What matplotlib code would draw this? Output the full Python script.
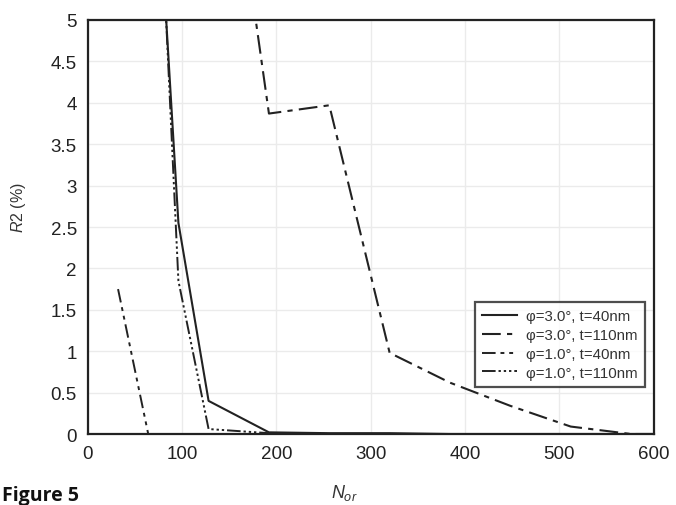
import matplotlib
matplotlib.use('Agg')
import matplotlib.pyplot as plt

# 数据
n_30_40 = [64, 96, 128, 192, 256, 320, 384, 448, 512, 576, 600]
r_30_40 = [8.6, 2.55, 0.40, 0.02, 0.01, 0.01, 0.0, 0.0, 0.0, 0.0, 0.0]

n_30_110 = [128, 160, 192, 256, 320, 384, 448, 512, 576, 600]
r_30_110 = [9.0, 6.45, 3.87, 3.97, 0.98, 0.62, 0.34, 0.09, 0.0, 0.0]

n_10_40 = [32, 64, 96, 128, 192, 256, 320, 384, 448, 512, 576, 600]
r_10_40 = [1.75, 0.0, 0.0, 0.0, 0.0, 0.0, 0.0, 0.0, 0.0, 0.0, 0.0, 0.0]

n_10_110 = [64, 96, 128, 192, 256, 320, 384, 448, 512, 576, 600]
r_10_110 = [9.6, 1.85, 0.06, 0.01, 0.0, 0.0, 0.0, 0.0, 0.0, 0.0, 0.0]

labels = [u'φ=3.0°, t=40nm', u'φ=3.0°, t=110nm',
          u'φ=1.0°, t=40nm', u'φ=1.0°, t=110nm']
x_ticks = [0, 100, 200, 300, 400, 500, 600]
y_ticks = [0, 0.5, 1, 1.5, 2, 2.5, 3, 3.5, 4, 4.5, 5]
y_ticklabels = ['0', '0.5', '1', '1.5', '2', '2.5', '3', '3.5', '4', '4.5', '5']

plt.rcParams['font.family'] = ['Liberation Sans', 'DejaVu Sans']
plt.rcParams['mathtext.fontset'] = 'custom'
plt.rcParams['mathtext.rm'] = 'Liberation Sans'
plt.rcParams['mathtext.it'] = 'Liberation Sans:italic'

fig = plt.figure(figsize=(6.76, 5.06), dpi=100)
ax = fig.add_axes([0.130, 0.1403, 0.837, 0.8182])

ax.plot(n_30_40, r_30_40, color='#222222', lw=1.5, ls='-', label=labels[0])
ax.plot(n_30_110, r_30_110, color='#222222', lw=1.5,
        ls=(0, (9, 3, 2.5, 3)), label=labels[1])
ax.plot(n_10_40, r_10_40, color='#222222', lw=1.4,
        ls=(0, (7, 2.5, 2, 2.5, 2, 2.5)), label=labels[2])
ax.plot(n_10_110, r_10_110, color='#222222', lw=1.4,
        ls=(0, (7, 1.5, 1.2, 1.5, 1.2, 1.5, 1.2, 1.5)), label=labels[3])

ax.set_xlim(0, 600)
ax.set_ylim(0, 5)
ax.set_xticks(x_ticks)
ax.set_yticks(y_ticks)
ax.set_yticklabels(y_ticklabels)
ax.tick_params(length=0, labelsize=13.5, pad=8, colors='#222222')
ax.grid(True, color='#ebebeb', lw=1.0)
for s in ax.spines.values():
    s.set_linewidth(1.6)
    s.set_color('#222222')

ax.set_ylabel('$R$2 (%)', fontsize=11.5, color='#333333')
ax.yaxis.set_label_coords(-0.106, 0.55)

leg = ax.legend(loc='lower right', bbox_to_anchor=(0.998, 0.095),
                fontsize=10.8, frameon=True, fancybox=False,
                labelspacing=0.32, handlelength=2.3, handletextpad=0.6,
                borderpad=0.5)
leg.get_frame().set_edgecolor('#222222')
leg.get_frame().set_linewidth(1.6)
for t in leg.get_texts():
    t.set_color('#333333')

fig.text(0.51, 0.005, r'$N_{or}$', fontsize=13, family='serif',
         ha='center', va='bottom', color='#333333')
fig.text(0.003, 0.0, 'Figure 5', fontsize=14, fontweight='bold',
         family='Open Sans', ha='left', va='bottom', color='#111111')

plt.savefig('out.png', dpi=100)
